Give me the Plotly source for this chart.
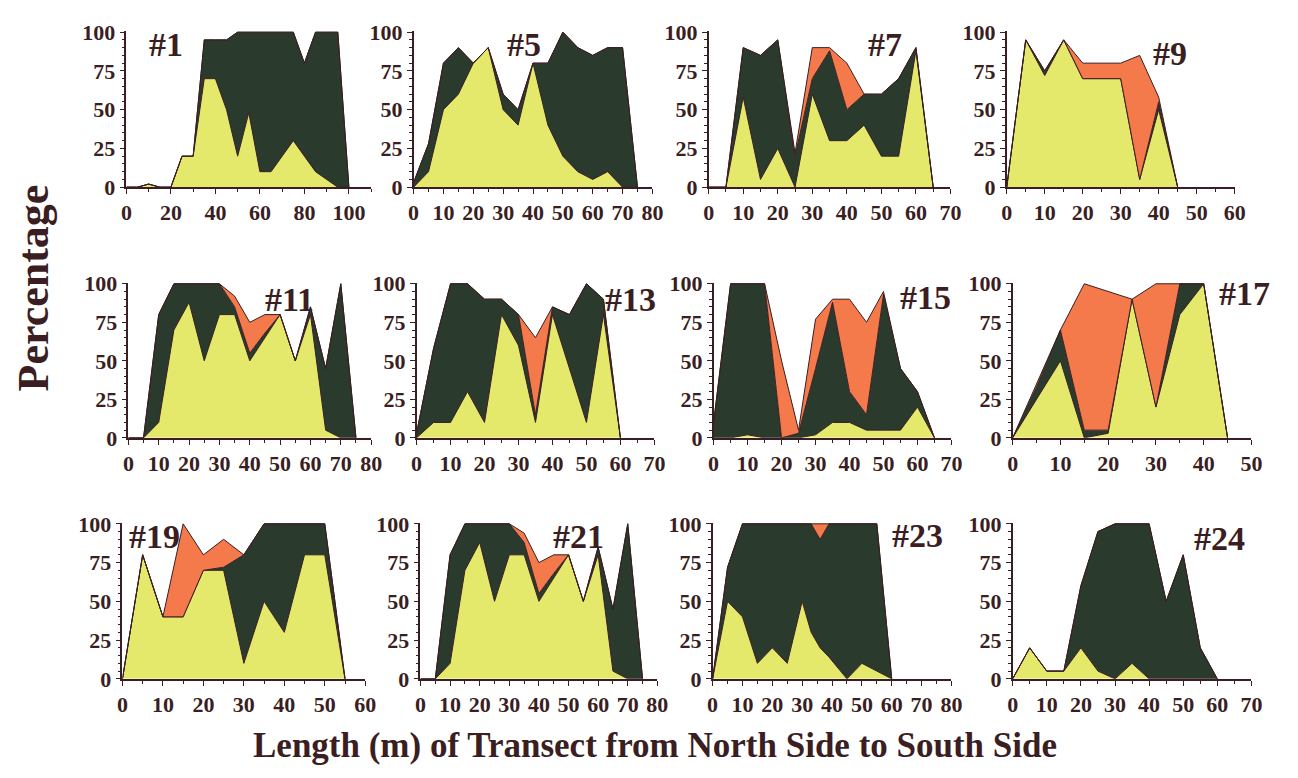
import plotly.graph_objects as go

W, H = 1298, 778
YEL = '#e4e96c'
GRN = '#2a3b2d'
ORA = '#f4794b'
INK = '#3a1e22'
FONT = 'Liberation Serif'

panel_names = ['#1', '#5', '#7', '#9', '#11', '#13', '#15', '#17', '#19', '#21', '#23', '#24']

# ---- data: distance (m) and cumulative boundaries (%) ----
x_1 = [0, 5, 10, 15, 20, 25, 30, 35, 40, 45, 50, 55, 60, 65, 70, 75, 80, 85, 90, 95, 100]
yellow_1 = [0, 0, 2, 0, 0, 20, 20, 70, 70, 50, 20, 48, 10, 10, 20, 30, 20, 10, 5, 0, 0]
green_1 = [0, 0, 2, 0, 0, 20, 20, 95, 95, 95, 100, 100, 100, 100, 100, 100, 80, 100, 100, 100, 0]
orange_1 = [0, 0, 2, 0, 0, 20, 20, 95, 95, 95, 100, 100, 100, 100, 100, 100, 80, 100, 100, 100, 0]

x_5 = [0, 5, 10, 15, 20, 25, 30, 35, 40, 45, 50, 55, 60, 65, 70, 75]
yellow_5 = [0, 10, 50, 60, 80, 90, 50, 40, 80, 40, 20, 10, 5, 10, 0, 0]
green_5 = [3, 28, 80, 90, 80, 90, 60, 50, 80, 80, 100, 90, 85, 90, 90, 0]
orange_5 = [3, 28, 80, 90, 80, 90, 60, 50, 80, 80, 100, 90, 85, 90, 90, 0]

x_7 = [0, 5, 10, 15, 20, 25, 30, 35, 40, 45, 50, 55, 60, 65]
yellow_7 = [0, 0, 58, 5, 25, 0, 60, 30, 30, 40, 20, 20, 88, 0]
green_7 = [0, 0, 90, 85, 95, 20, 70, 88, 50, 60, 60, 70, 90, 0]
orange_7 = [0, 0, 90, 85, 95, 22, 90, 90, 80, 60, 60, 70, 90, 0]

x_9 = [0, 5, 10, 15, 20, 25, 30, 35, 40, 45]
yellow_9 = [0, 95, 72, 95, 70, 70, 70, 5, 50, 0]
green_9 = [0, 95, 75, 95, 70, 70, 70, 5, 55, 0]
orange_9 = [0, 95, 75, 95, 80, 80, 80, 85, 58, 0]

x_11 = [0, 5, 10, 15, 20, 25, 30, 35, 40, 45, 50, 55, 60, 65, 70, 75]
yellow_11 = [0, 0, 10, 70, 88, 50, 80, 80, 50, 65, 80, 50, 80, 5, 0, 0]
green_11 = [0, 0, 80, 100, 100, 100, 100, 85, 55, 68, 80, 50, 85, 45, 100, 0]
orange_11 = [0, 0, 80, 100, 100, 100, 100, 92, 75, 80, 80, 50, 85, 45, 100, 0]

x_13 = [0, 5, 10, 15, 20, 25, 30, 35, 40, 45, 50, 55, 60]
yellow_13 = [0, 10, 10, 30, 10, 80, 60, 10, 80, 45, 10, 80, 0]
green_13 = [3, 58, 100, 100, 90, 90, 80, 15, 85, 80, 100, 90, 0]
orange_13 = [3, 58, 100, 100, 90, 90, 80, 65, 85, 80, 100, 90, 0]

x_15 = [0, 5, 10, 15, 20, 25, 30, 35, 40, 45, 50, 55, 60, 65]
yellow_15 = [0, 0, 2, 0, 0, 0, 2, 10, 10, 5, 5, 5, 20, 0]
green_15 = [10, 100, 100, 100, 0, 3, 45, 88, 30, 15, 93, 45, 30, 0]
orange_15 = [10, 100, 100, 100, 50, 5, 77, 90, 90, 75, 95, 45, 30, 0]

x_17 = [0, 5, 10, 15, 20, 25, 30, 35, 40, 45]
yellow_17 = [0, 25, 50, 0, 3, 90, 20, 80, 100, 0]
green_17 = [0, 33, 70, 5, 5, 90, 20, 100, 100, 0]
orange_17 = [0, 35, 70, 100, 95, 90, 100, 100, 100, 0]

x_19 = [0, 5, 10, 15, 20, 25, 30, 35, 40, 45, 50, 55]
yellow_19 = [0, 80, 40, 40, 70, 70, 10, 50, 30, 80, 80, 0]
green_19 = [0, 80, 40, 40, 70, 72, 80, 100, 100, 100, 100, 0]
orange_19 = [0, 80, 40, 100, 80, 90, 80, 100, 100, 100, 100, 0]

x_21 = [0, 5, 10, 15, 20, 25, 30, 35, 40, 45, 50, 55, 60, 65, 70, 75]
yellow_21 = [0, 0, 10, 70, 88, 50, 80, 80, 50, 65, 80, 50, 80, 5, 0, 0]
green_21 = [0, 0, 80, 100, 100, 100, 100, 88, 55, 68, 80, 50, 85, 45, 100, 0]
orange_21 = [0, 0, 80, 100, 100, 100, 100, 94, 75, 80, 80, 50, 85, 45, 100, 0]

x_23 = [0, 5, 10, 15, 20, 25, 30, 33, 36, 39, 45, 50, 55, 60]
yellow_23 = [0, 50, 40, 10, 20, 10, 50, 30, 20, 14, 0, 10, 5, 0]
green_23 = [0, 72, 100, 100, 100, 100, 100, 100, 90, 100, 100, 100, 100, 0]
orange_23 = [0, 72, 100, 100, 100, 100, 100, 100, 100, 100, 100, 100, 100, 0]

x_24 = [0, 5, 10, 15, 20, 25, 30, 35, 40, 45, 50, 55, 60]
yellow_24 = [0, 20, 5, 5, 20, 5, 0, 10, 0, 0, 0, 0, 0]
green_24 = [0, 20, 5, 5, 60, 95, 100, 100, 100, 50, 80, 20, 0]
orange_24 = [0, 20, 5, 5, 60, 95, 100, 100, 100, 50, 80, 20, 0]

xs = [x_1, x_5, x_7, x_9, x_11, x_13, x_15, x_17, x_19, x_21, x_23, x_24]
yellows = [yellow_1, yellow_5, yellow_7, yellow_9, yellow_11, yellow_13,
           yellow_15, yellow_17, yellow_19, yellow_21, yellow_23, yellow_24]
greens = [green_1, green_5, green_7, green_9, green_11, green_13,
          green_15, green_17, green_19, green_21, green_23, green_24]
oranges = [orange_1, orange_5, orange_7, orange_9, orange_11, orange_13,
           orange_15, orange_17, orange_19, orange_21, orange_23, orange_24]

x_max = [110, 80, 70, 60, 80, 70, 70, 50, 60, 80, 80, 70]
x_tick_step = [20, 10, 10, 10, 10, 10, 10, 10, 10, 10, 10, 10]
x_tick_last = [100, 80, 70, 60, 80, 70, 70, 50, 60, 80, 80, 70]
y_ticks = [0, 25, 50, 75, 100]

# ---- layout: pixel boxes (x of axis 0, x of axis end) and rows (top, bottom) ----
col_px = [
    [(122, 370), (413, 655), (712, 957), (1014, 1245)],
    [(124, 370), (416, 657), (717, 958), (1020, 1262)],
    [(118, 364), (420, 660), (716, 958), (1020, 1262)],
]
row_px = [(20, 181), (280, 440), (528, 689)]
label_pos = [(18, 92), (37, 92), (51, 92), (43, 86),
             (53, 90), (63, 90), (62.5, 91), (48.5, 94),
             (8, 92), (53.5, 91.5), (68.5, 92.5), (60.5, 90.5)]

fig = go.Figure()
layout = dict(
    width=W, height=H,
    margin=dict(l=0, r=0, t=0, b=0),
    paper_bgcolor='white', plot_bgcolor='white',
    showlegend=False,
    font=dict(family=FONT, color=INK),
)
annotations = []

for i in range(12):
    k = i + 1
    r, c = divmod(i, 4)
    x0, x1 = col_px[r][c]
    yt, yb = row_px[r]
    xa = f'x{k}' if k > 1 else 'x'
    ya = f'y{k}' if k > 1 else 'y'
    for vals, col, fill in ((yellows[i], YEL, 'tozeroy'),
                            (greens[i], GRN, 'tonexty'),
                            (oranges[i], ORA, 'tonexty')):
        fig.add_trace(go.Scatter(
            x=xs[i], y=vals, mode='lines', fill=fill, fillcolor=col,
            line=dict(color=INK, width=1), xaxis=xa, yaxis=ya,
            hoverinfo='skip'))
    tickvals = list(range(0, x_tick_last[i] + 1, x_tick_step[i]))
    layout[f'xaxis{k}' if k > 1 else 'xaxis'] = dict(
        domain=[x0 / W, x1 / W], anchor=ya, range=[0, x_max[i]],
        tickvals=tickvals, ticks='outside', ticklen=5, tickwidth=1.2, tickcolor=INK,
        showline=True, linecolor=INK, linewidth=1.5, showgrid=False, zeroline=False,
        tickfont=dict(family=FONT, size=22, color=INK, weight='bold'),
        minor=dict(dtick=x_tick_step[i] / 2, ticks='outside', ticklen=3, tickcolor=INK),
    )
    layout[f'yaxis{k}' if k > 1 else 'yaxis'] = dict(
        domain=[1 - yb / H, 1 - yt / H], anchor=xa, range=[0, 100.5],
        tickvals=y_ticks, ticks='outside', ticklen=5, tickwidth=1.2, tickcolor=INK,
        showline=True, linecolor=INK, linewidth=1.5, showgrid=False, zeroline=False,
        tickfont=dict(family=FONT, size=22, color=INK, weight='bold'),
        minor=dict(dtick=5, ticks='outside', ticklen=3, tickcolor=INK),
    )
    lx, ly = label_pos[i]
    annotations.append(dict(
        text=panel_names[i], x=lx, y=ly, xref=xa, yref=ya, showarrow=False,
        xanchor='center', yanchor='middle',
        font=dict(family=FONT, size=34, color=INK, weight='bold')))

annotations.append(dict(
    text='Percentage', x=28 / W, y=1 - 285 / H, xref='paper', yref='paper',
    xanchor='center', yanchor='middle',
    showarrow=False, textangle=-90,
    font=dict(family=FONT, size=44, color=INK, weight='bold')))
annotations.append(dict(
    text='Length (m) of Transect from North Side to South Side',
    x=658 / W, y=1 - 758 / H, xref='paper', yref='paper', showarrow=False,
    xanchor='center', yanchor='middle',
    font=dict(family=FONT, size=35, color=INK, weight='bold')))

layout['annotations'] = annotations
fig.update_layout(**layout)
fig.write_html('out.html')
